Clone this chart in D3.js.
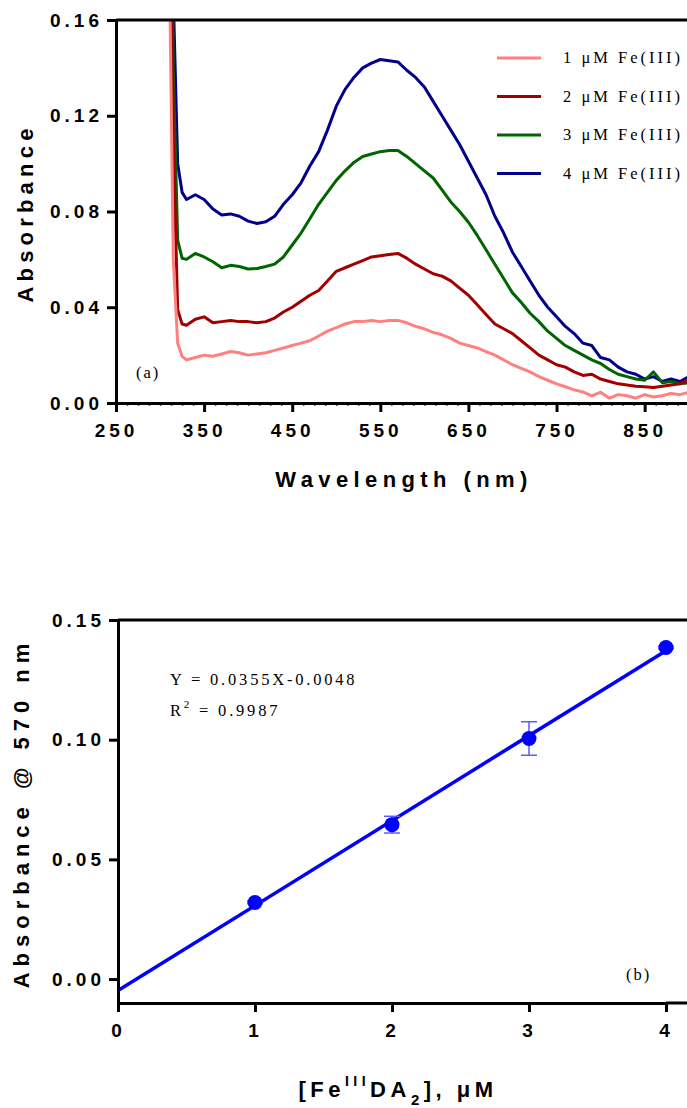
<!DOCTYPE html>
<html>
<head>
<meta charset="utf-8">
<style>
  body { margin: 0; background: #fff; }
  svg { display: block; }
  .tick text { font-family: "Liberation Sans", Arial, sans-serif; font-weight: bold; font-size: 19px; letter-spacing: 4px; fill: #000; }
  .axis path, .axis line { stroke: #000; stroke-width: 3; }
  .minor line { stroke: #555; stroke-width: 1.5; }
  .minor path { display: none; }
  .lab { font-family: "Liberation Sans", Arial, sans-serif; font-weight: bold; font-size: 22px; fill: #000; }
  .serif { font-family: "Liberation Serif", "Times New Roman", serif; font-size: 16.5px; fill: #000; }
</style>
<script src="https://cdn.jsdelivr.net/npm/d3@7"></script>
</head>
<body>
<svg id="chart" width="687" height="1108"></svg>
<script>
// ---- panel (a): UV-vis spectra ----
var wavelengths = [305, 310, 315, 320, 325, 330, 340, 350, 360, 370, 380, 390, 400, 410, 420, 430, 440, 450, 460, 470,
  480, 490, 500, 510, 520, 530, 540, 550, 560, 570, 580, 590, 600, 610, 620, 630, 640, 650, 660, 670,
  680, 690, 700, 710, 720, 730, 740, 750, 760, 770, 780, 790, 800, 810, 820, 830, 840, 850, 860, 870,
  880, 890, 900];

var fe1 = [0.45, 0.2, 0.06, 0.025, 0.0195, 0.018, 0.019, 0.020, 0.0195, 0.0205, 0.0215, 0.021, 0.020, 0.0205, 0.021, 0.022, 0.023, 0.024, 0.025, 0.026,
  0.028, 0.030, 0.0315, 0.033, 0.034, 0.034, 0.0345, 0.034, 0.0345, 0.0345, 0.0335, 0.032, 0.031, 0.0295, 0.0285, 0.027, 0.025, 0.024, 0.023, 0.0215,
  0.020, 0.018, 0.016, 0.0145, 0.013, 0.011, 0.0095, 0.008, 0.0068, 0.0055, 0.0046, 0.003, 0.0045, 0.002, 0.0035, 0.003, 0.002, 0.0035, 0.0025, 0.003,
  0.004, 0.0035, 0.0045];

var fe2 = [0.5, 0.3, 0.11, 0.039, 0.033, 0.0325, 0.035, 0.036, 0.0335, 0.034, 0.0345, 0.034, 0.034, 0.0335, 0.034, 0.0355, 0.038, 0.040, 0.0425, 0.045,
  0.047, 0.051, 0.055, 0.0565, 0.058, 0.0595, 0.061, 0.0615, 0.062, 0.0625, 0.0605, 0.058, 0.056, 0.054, 0.053, 0.051, 0.048, 0.045, 0.041, 0.037,
  0.033, 0.031, 0.029, 0.026, 0.023, 0.020, 0.018, 0.016, 0.015, 0.013, 0.0115, 0.012, 0.010, 0.009, 0.008, 0.0075, 0.007, 0.0068, 0.0065, 0.007,
  0.0075, 0.008, 0.0095];

var fe3 = [0.55, 0.35, 0.14, 0.068, 0.0605, 0.060, 0.0625, 0.061, 0.059, 0.0565, 0.0575, 0.057, 0.056, 0.0562, 0.057, 0.058, 0.061, 0.066, 0.071, 0.077,
  0.083, 0.088, 0.093, 0.097, 0.1005, 0.103, 0.104, 0.105, 0.1055, 0.1055, 0.103, 0.100, 0.097, 0.094, 0.089, 0.084, 0.080, 0.0755, 0.070, 0.064,
  0.058, 0.052, 0.046, 0.042, 0.0375, 0.034, 0.030, 0.027, 0.024, 0.022, 0.020, 0.018, 0.0165, 0.014, 0.012, 0.011, 0.010, 0.0095, 0.013, 0.0085,
  0.009, 0.008, 0.0085];

var fe4 = [0.6, 0.4, 0.17, 0.10, 0.088, 0.085, 0.087, 0.085, 0.081, 0.0785, 0.079, 0.078, 0.076, 0.075, 0.0757, 0.078, 0.083, 0.087, 0.092, 0.099,
  0.105, 0.114, 0.124, 0.131, 0.136, 0.140, 0.142, 0.1435, 0.143, 0.1425, 0.139, 0.136, 0.132, 0.126, 0.120, 0.114, 0.108, 0.101, 0.094, 0.087,
  0.078, 0.071, 0.063, 0.057, 0.051, 0.045, 0.040, 0.036, 0.032, 0.029, 0.025, 0.024, 0.019, 0.018, 0.015, 0.013, 0.012, 0.010, 0.011, 0.009,
  0.010, 0.009, 0.011];

var seriesNames = ["1 \u03BCM Fe(III)", "2 \u03BCM Fe(III)", "3 \u03BCM Fe(III)", "4 \u03BCM Fe(III)"];
var seriesColors = ["#ff8080", "#a00000", "#006400", "#00008b"];
var wlTicks = [250, 350, 450, 550, 650, 750, 850];
var absTicks = [0.00, 0.04, 0.08, 0.12, 0.16];

// ---- panel (b): calibration ----
var conc = [1, 2, 3, 4];
var abs570 = [0.032, 0.0645, 0.1005, 0.1385];
var abs570Err = [0.0005, 0.0035, 0.007, 0.0005];
var slope = 0.0355, intercept = -0.0048;
var concTicks = [0, 1, 2, 3, 4];
var abs570Ticks = [0.00, 0.05, 0.10, 0.15];

var svg = d3.select("#chart");
var W = 687;

// ===== panel (a) =====
var xa = d3.scaleLinear().domain([250, 900]).range([116, 688.7]);
var ya = d3.scaleLinear().domain([0, 0.16]).range([403, 20]);

svg.append("clipPath").attr("id", "clipA")
  .append("rect").attr("x", 116).attr("y", 20).attr("width", W - 116).attr("height", 385);

var lineA = d3.line().x(function(d) { return xa(d[0]); }).y(function(d) { return ya(d[1]); });
var allSeries = [fe1, fe2, fe3, fe4];
var gA = svg.append("g").attr("clip-path", "url(#clipA)");
[3, 2, 1, 0].forEach(function(i) {
  var pts = wavelengths.map(function(w, k) { return [w, allSeries[i][k]]; });
  gA.append("path").datum(pts)
    .attr("d", lineA)
    .attr("fill", "none")
    .attr("stroke", seriesColors[i])
    .attr("stroke-width", 3)
    .attr("stroke-linejoin", "round");
});

// minor ticks
svg.append("g").attr("class", "minor").attr("transform", "translate(0,403)")
  .call(d3.axisBottom(xa).tickValues(d3.range(262.5, 900, 12.5)).tickSize(3).tickFormat(""));

svg.append("g").attr("class", "axis").attr("transform", "translate(0,403)")
  .call(d3.axisBottom(xa).tickValues(wlTicks).tickSize(9).tickSizeOuter(0).tickPadding(12).tickFormat(d3.format("d")));
svg.append("g").attr("class", "axis").attr("transform", "translate(116,0)")
  .call(d3.axisLeft(ya).tickValues(absTicks).tickSize(9).tickSizeOuter(0).tickPadding(4).tickFormat(d3.format(".2f")));
svg.append("line").attr("x1", 116).attr("x2", W).attr("y1", 20).attr("y2", 20)
  .attr("stroke", "#000").attr("stroke-width", 3);

svg.append("text").attr("class", "lab").attr("x", 404).attr("y", 487)
  .attr("text-anchor", "middle").style("letter-spacing", "5.4px").text("Wavelength (nm)");
svg.append("text").attr("class", "lab").attr("transform", "translate(33,213) rotate(-90)")
  .attr("text-anchor", "middle").style("letter-spacing", "5.2px").text("Absorbance");

svg.append("text").attr("class", "serif").attr("x", 136).attr("y", 378).style("letter-spacing", "2px").text("(a)");

var legend = svg.selectAll(".legend").data(seriesNames).enter().append("g")
  .attr("class", "legend")
  .attr("transform", function(d, i) { return "translate(497," + (58 + i * 38.5) + ")"; });
legend.append("line").attr("x1", 0).attr("x2", 44).attr("y1", 0).attr("y2", 0)
  .attr("stroke", function(d, i) { return seriesColors[i]; }).attr("stroke-width", 3);
legend.append("text").attr("class", "serif").attr("x", 66).attr("y", 5)
  .style("letter-spacing", "3px").text(function(d) { return d; });

// ===== panel (b) =====
var xb = d3.scaleLinear().domain([0, 4]).range([118, 666]);
var yb = d3.scaleLinear().domain([-0.01, 0.15]).range([1003, 620]);

svg.append("line")
  .attr("x1", xb(0)).attr("y1", yb(intercept))
  .attr("x2", xb(4)).attr("y2", yb(slope * 4 + intercept))
  .attr("stroke", "#0000ff").attr("stroke-width", 3.5);

var pts = svg.append("g").selectAll("g").data(conc).enter().append("g");
pts.append("line")
  .attr("x1", function(d) { return xb(d); }).attr("x2", function(d) { return xb(d); })
  .attr("y1", function(d, i) { return yb(abs570[i] - abs570Err[i]); })
  .attr("y2", function(d, i) { return yb(abs570[i] + abs570Err[i]); })
  .attr("stroke", "#5a5aff").attr("stroke-width", 1.5);
[-1, 1].forEach(function(s) {
  pts.append("line")
    .attr("x1", function(d) { return xb(d) - 8; }).attr("x2", function(d) { return xb(d) + 8; })
    .attr("y1", function(d, i) { return yb(abs570[i] + s * abs570Err[i]); })
    .attr("y2", function(d, i) { return yb(abs570[i] + s * abs570Err[i]); })
    .attr("stroke", "#5a5aff").attr("stroke-width", 1.5);
});
pts.append("circle")
  .attr("cx", function(d) { return xb(d); })
  .attr("cy", function(d, i) { return yb(abs570[i]); })
  .attr("r", 7.5).attr("fill", "#0000ff");

svg.append("g").attr("class", "axis").attr("transform", "translate(0,1003)")
  .call(d3.axisBottom(xb).tickValues(concTicks).tickSize(9).tickSizeOuter(0).tickPadding(12).tickFormat(d3.format("d")));
svg.append("line").attr("x1", 666).attr("x2", W).attr("y1", 1003).attr("y2", 1003)
  .attr("stroke", "#000").attr("stroke-width", 3);
svg.append("g").attr("class", "axis").attr("transform", "translate(118,0)")
  .call(d3.axisLeft(yb).tickValues(abs570Ticks).tickSize(9).tickSizeOuter(0).tickPadding(4).tickFormat(d3.format(".2f")));
svg.append("line").attr("x1", 118).attr("x2", W).attr("y1", 620).attr("y2", 620)
  .attr("stroke", "#000").attr("stroke-width", 3);

svg.append("text").attr("class", "serif").attr("x", 170).attr("y", 685)
  .style("letter-spacing", "2.8px").text("Y = 0.0355X-0.0048");
var r2 = svg.append("text").attr("class", "serif").attr("x", 170).attr("y", 716).style("letter-spacing", "2.8px");
r2.append("tspan").text("R");
r2.append("tspan").attr("dy", -8).style("font-size", "11px").text("2");
r2.append("tspan").attr("dy", 8).text(" = 0.9987");

svg.append("text").attr("class", "serif").attr("x", 626).attr("y", 980).style("letter-spacing", "2px").text("(b)");

svg.append("text").attr("class", "lab").attr("transform", "translate(29,813) rotate(-90)")
  .attr("text-anchor", "middle").style("letter-spacing", "6px").text("Absorbance @ 570 nm");

var xl = svg.append("text").attr("class", "lab").attr("x", 398).attr("y", 1097)
  .attr("text-anchor", "middle").style("letter-spacing", "4.5px");
xl.append("tspan").text("[Fe");
xl.append("tspan").attr("dy", -11).style("font-size", "14px").text("III");
xl.append("tspan").attr("dy", 11).text("DA");
xl.append("tspan").attr("dy", 8).style("font-size", "15px").text("2");
xl.append("tspan").attr("dy", -8).text("], \u03BCM");
</script>
</body>
</html>
